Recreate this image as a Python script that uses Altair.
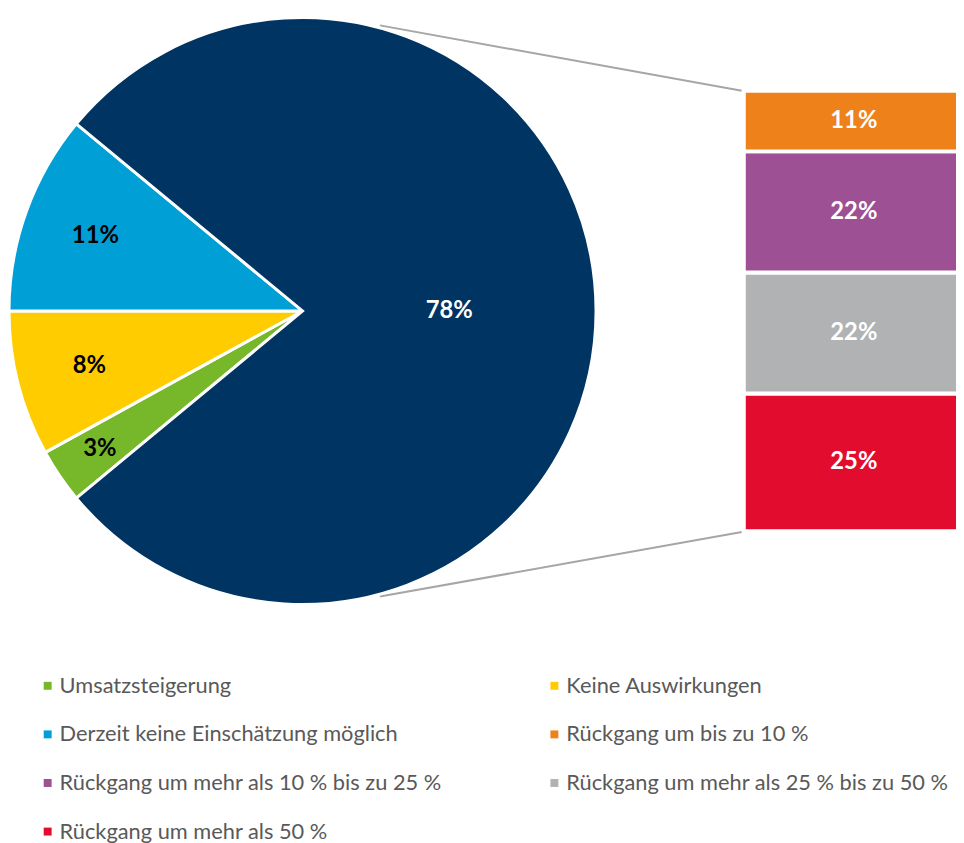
import altair as alt
import pandas as pd

# ---- data ----
pie_cats = ["Umsatzsteigerung", "Keine Auswirkungen",
            "Derzeit keine Einschätzung möglich", "Umsatzrückgang"]
pie_vals = [3, 8, 11, 78]
pie_labels = ["3%", "8%", "11%", "78%"]

bar_cats = ["Rückgang um mehr als 50 %", "Rückgang um mehr als 25 % bis zu 50 %",
            "Rückgang um mehr als 10 % bis zu 25 %", "Rückgang um bis zu 10 %"]
bar_vals = [25, 22, 22, 11]
bar_labels = ["25%", "22%", "22%", "11%"]

legend_order = ["Umsatzsteigerung", "Keine Auswirkungen",
                "Derzeit keine Einschätzung möglich", "Rückgang um bis zu 10 %",
                "Rückgang um mehr als 10 % bis zu 25 %",
                "Rückgang um mehr als 25 % bis zu 50 %",
                "Rückgang um mehr als 50 %"]
legend_colors = ["#77B82A", "#FFCC00", "#009FD6", "#EE811A",
                 "#9E5095", "#B1B2B4", "#E20D2E"]
navy = "#003462"

pie_df = pd.DataFrame({"cat": pie_cats, "value": pie_vals,
                       "label": pie_labels, "ord": list(range(len(pie_cats)))})
bar_df = pd.DataFrame({"cat": bar_cats, "value": bar_vals,
                       "label": bar_labels, "ord": list(range(len(bar_cats)))})

color_scale = alt.Scale(domain=legend_order + ["Umsatzrückgang"],
                        range=legend_colors + [navy])
legend = alt.Legend(values=legend_order, title=None, orient="none",
                    direction="horizontal",
                    legendX=29, legendY=669, columns=2, columnPadding=102,
                    rowPadding=27, labelFont="Lato", labelFontSize=22,
                    labelColor="#595959", labelLimit=600, symbolType="square",
                    symbolSize=64, symbolStrokeWidth=0, labelOffset=1, padding=0)

START = 4.0212  # start angle of the first (green) slice, radians
theta_scale = alt.Scale(range=[START, START + 6.283185])

cx, cy, R = 297, 302, 296

pie_base = alt.Chart(pie_df)
pie = pie_base.mark_arc(radius=R, stroke="white", strokeWidth=3).encode(
    theta=alt.Theta("value:Q", stack=True, scale=theta_scale),
    order=alt.Order("ord:Q"),
    color=alt.Color("cat:N", scale=color_scale, legend=legend),
    x=alt.value(cx), y=alt.value(cy),
)


def pie_text(show, radius, color):
    return pie_base.mark_text(font="Lato", fontWeight="bold", fontSize=24,
                              color=color).encode(
        theta=alt.Theta("value:Q", stack=True),
        order=alt.Order("ord:Q"),
        radius=alt.value(radius),
        text=alt.condition(show, "label:N", alt.value("")),
        x=alt.value(cx), y=alt.value(cy),
    )


t_green = pie_text(alt.datum.ord == 0, 247, "black")
t_mid = pie_text((alt.datum.ord == 1) | (alt.datum.ord == 2), 222, "black")
t_big = pie_text(alt.datum.ord == 3, 148, "white")

bar_base = alt.Chart(bar_df).transform_stack(
    stack="value", groupby=[], as_=["y0", "y1"], sort=[alt.SortField("ord")]
).transform_calculate(ym="(datum.y0 + datum.y1) / 2")
y_scale = alt.Scale(domain=[0, 80], range=[524, 80])
bars = bar_base.mark_rect(stroke="white", strokeWidth=4).encode(
    x=alt.value(742), x2=alt.value(962),
    y=alt.Y("y0:Q", scale=y_scale, axis=None), y2="y1:Q",
    color=alt.Color("cat:N", scale=color_scale, legend=legend),
)
bar_text = bar_base.mark_text(font="Lato", fontWeight="bold", fontSize=24,
                              color="white").encode(
    x=alt.value(853), y=alt.Y("ym:Q", scale=y_scale, axis=None),
    text="label:N",
)

dummy = alt.Chart(pd.DataFrame({"k": [0]}))
conn_top = dummy.mark_rule(color="#A6A6A6", strokeWidth=2).encode(
    x=alt.value(375), y=alt.value(14), x2=alt.value(740), y2=alt.value(80))
conn_bot = dummy.mark_rule(color="#A6A6A6", strokeWidth=2).encode(
    x=alt.value(375), y=alt.value(590), x2=alt.value(740), y2=alt.value(525))

chart = alt.layer(conn_top, conn_bot, pie, t_green, t_mid, t_big,
                  bars, bar_text).properties(
    width=956, height=835, padding=0,
    autosize=alt.AutoSizeParams(type="none"),
).configure_view(stroke=None)

chart.save("out.html", embed_options={"renderer": "svg", "actions": False})
